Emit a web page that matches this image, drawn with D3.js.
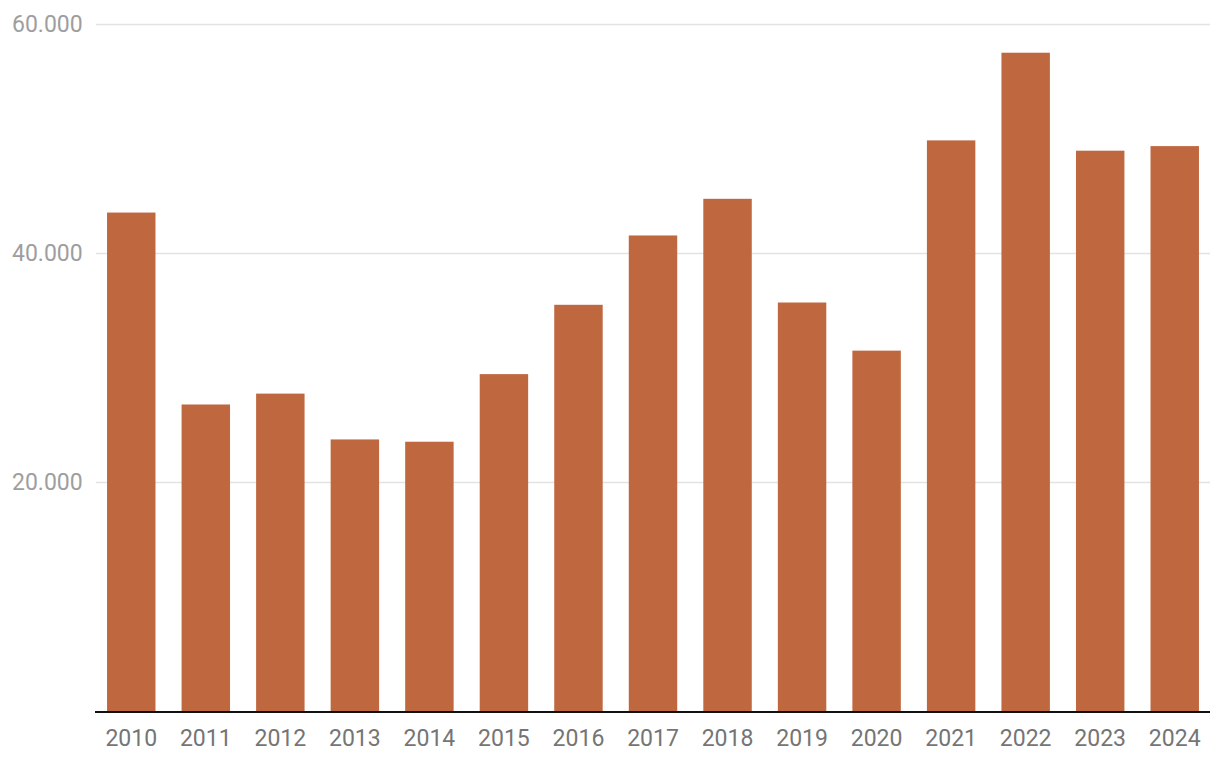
<!DOCTYPE html>
<html><head><meta charset="utf-8">
<script src="https://cdn.jsdelivr.net/npm/d3@7"></script>
<style>body{margin:0;background:#fff;}svg{display:block;font-family:Roboto,sans-serif;}</style>
</head><body>
<script>
const years = ["2010","2011","2012","2013","2014","2015","2016","2017","2018","2019","2020","2021","2022","2023","2024"];
const values = [43500,26750,27700,23700,23500,29400,35450,41500,44700,35650,31450,49800,57450,48900,49300];
const yTicks = [20000,40000,60000];
const yTickLabels = ["20.000","40.000","60.000"];

const W=1220,H=768;
const svg=d3.select("body").append("svg").attr("width",W).attr("height",H);
const x=d3.scaleBand().domain(years).range([94,1212]).paddingInner(0.35).paddingOuter(0.175);
const y=d3.scaleLinear().domain([0,60000]).range([711,23.5]);

// gridlines
svg.append("g").selectAll("line").data(yTicks).join("line")
  .attr("x1",96).attr("x2",1210)
  .attr("y1",d=>Math.round(y(d))+0.5).attr("y2",d=>Math.round(y(d))+0.5)
  .attr("stroke","#e3e3e3").attr("stroke-width",1.5);
svg.append("g").selectAll("text").data(yTicks).join("text")
  .attr("x",12).attr("y",d=>y(d)+8.5)
  .attr("font-size",23).attr("fill","#9e9e9e")
  .text((d,i)=>yTickLabels[i]);

// bars
svg.append("g").selectAll("rect").data(values).join("rect")
  .attr("x",(d,i)=>x(years[i])).attr("width",x.bandwidth())
  .attr("y",d=>y(d)).attr("height",d=>y(0)-y(d))
  .attr("fill","#bf673f");

// baseline
svg.append("line").attr("x1",95).attr("x2",1210).attr("y1",712).attr("y2",712)
  .attr("stroke","#111").attr("stroke-width",2);

// x labels
const xa=svg.append("g").attr("transform","translate(0,712)")
  .call(d3.axisBottom(x).tickSize(0).tickPadding(0));
xa.select(".domain").remove();
xa.selectAll("text").attr("font-size",23).attr("fill","#757575")
  .attr("font-family","Roboto,sans-serif").attr("dy",null).attr("y",34);
</script>
</body></html>
